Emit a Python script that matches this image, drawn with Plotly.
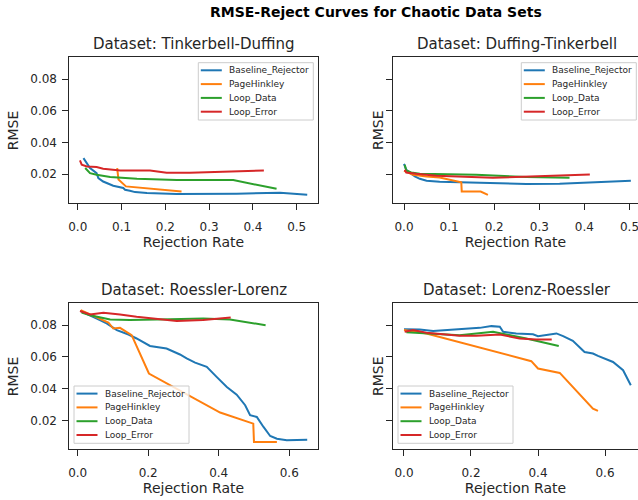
import plotly.graph_objects as go

# ---------------- data ----------------
series_names = ["Baseline_Rejector", "PageHinkley", "Loop_Data", "Loop_Error"]
series_colors = ["#1f77b4", "#ff7f0e", "#2ca02c", "#d62728"]
panel_titles = ["Dataset: Tinkerbell-Duffing", "Dataset: Duffing-Tinkerbell",
                "Dataset: Roessler-Lorenz", "Dataset: Lorenz-Roessler"]

# Tinkerbell-Duffing
td_base_x = [0.013, 0.02, 0.028, 0.043, 0.047, 0.058, 0.081, 0.104, 0.108, 0.119, 0.131, 0.158, 0.226, 0.363, 0.462, 0.524]
td_base_y = [0.0301, 0.027, 0.0238, 0.0206, 0.0175, 0.0153, 0.0126, 0.0112, 0.0101, 0.0095, 0.0086, 0.008, 0.0074, 0.0076, 0.0082, 0.0069]
td_ph_x = [0.090, 0.093, 0.11, 0.135, 0.237]
td_ph_y = [0.0238, 0.0165, 0.0122, 0.0115, 0.0090]
td_ld_x = [0.017, 0.028, 0.043, 0.074, 0.135, 0.226, 0.355, 0.454]
td_ld_y = [0.0238, 0.0206, 0.0196, 0.0181, 0.017, 0.0162, 0.0162, 0.0107]
td_le_x = [0.005, 0.009, 0.021, 0.043, 0.058, 0.097, 0.165, 0.203, 0.256, 0.348, 0.425]
td_le_y = [0.0286, 0.0259, 0.0248, 0.0244, 0.0233, 0.0223, 0.0223, 0.0208, 0.0208, 0.0217, 0.0223]

# Duffing-Tinkerbell
dt_base_x = [0.0, 0.005, 0.016, 0.024, 0.035, 0.05, 0.079, 0.183, 0.271, 0.345, 0.419, 0.503]
dt_base_y = [0.0265, 0.0227, 0.0202, 0.0185, 0.017, 0.0158, 0.0151, 0.0141, 0.0137, 0.0139, 0.0147, 0.0158]
dt_ph_x = [0.0, 0.02, 0.05, 0.079, 0.127, 0.128, 0.17, 0.186]
dt_ph_y = [0.022, 0.0195, 0.0185, 0.0178, 0.0148, 0.009, 0.009, 0.0069]
dt_ld_x = [0.0016, 0.005, 0.016, 0.035, 0.16, 0.271, 0.367]
dt_ld_y = [0.0259, 0.0223, 0.021, 0.0202, 0.0196, 0.0181, 0.0177]
dt_le_x = [0.0016, 0.005, 0.027, 0.072, 0.197, 0.271, 0.412]
dt_le_y = [0.0227, 0.021, 0.0202, 0.0189, 0.0177, 0.0185, 0.0197]

# Roessler-Lorenz
rl_base_x = [0.0085, 0.035, 0.063, 0.082, 0.111, 0.144, 0.167, 0.205, 0.252, 0.29, 0.309, 0.333, 0.366, 0.394,
             0.423, 0.451, 0.475, 0.489, 0.508, 0.527, 0.546, 0.565, 0.593, 0.651]
rl_base_y = [0.0889, 0.0863, 0.0832, 0.0811, 0.0769, 0.0741, 0.0716, 0.0669, 0.0653, 0.0615, 0.059, 0.0564, 0.0537,
             0.0474, 0.041, 0.0362, 0.0295, 0.0232, 0.0221, 0.0158, 0.0101, 0.0084, 0.0074, 0.0078]
rl_ph_x = [0.0085, 0.073, 0.087, 0.101, 0.12, 0.153, 0.202, 0.404, 0.498, 0.5, 0.565]
rl_ph_y = [0.0895, 0.0832, 0.0817, 0.0779, 0.0783, 0.0737, 0.0495, 0.0249, 0.0179, 0.0063, 0.0063]
rl_ld_x = [0.011, 0.035, 0.092, 0.148, 0.262, 0.356, 0.432, 0.533]
rl_ld_y = [0.088, 0.0863, 0.0836, 0.0832, 0.0838, 0.0842, 0.0836, 0.08]
rl_le_x = [0.0065, 0.035, 0.073, 0.12, 0.167, 0.224, 0.281, 0.356, 0.434]
rl_le_y = [0.0889, 0.0868, 0.0878, 0.0868, 0.0853, 0.0838, 0.0827, 0.0832, 0.0849]

# Lorenz-Roessler
lr_base_x = [0.0, 0.047, 0.087, 0.166, 0.226, 0.261, 0.286, 0.296, 0.335, 0.385, 0.4, 0.455, 0.475, 0.504, 0.539,
             0.564, 0.579, 0.624, 0.654, 0.677]
lr_base_y = [0.0775, 0.0773, 0.0764, 0.0775, 0.0783, 0.0794, 0.079, 0.0758, 0.0748, 0.0743, 0.0731, 0.0748, 0.0731,
             0.0701, 0.0631, 0.0621, 0.0606, 0.0568, 0.0516, 0.0421]
lr_ph_x = [0.0, 0.067, 0.38, 0.4, 0.465, 0.564, 0.579]
lr_ph_y = [0.0769, 0.0748, 0.0573, 0.0527, 0.0499, 0.0274, 0.0259]
lr_ld_x = [0.007, 0.067, 0.166, 0.266, 0.365, 0.462]
lr_ld_y = [0.0755, 0.0748, 0.0737, 0.0758, 0.0716, 0.0669]
lr_le_x = [0.002, 0.027, 0.067, 0.166, 0.216, 0.286, 0.345, 0.395, 0.441]
lr_le_y = [0.0758, 0.0769, 0.0752, 0.0733, 0.0733, 0.0741, 0.0716, 0.071, 0.071]

y_ticks = [0.02, 0.04, 0.06, 0.08]
y_tick_labels = ["0.02", "0.04", "0.06", "0.08"]

panels = [
    [(td_base_x, td_base_y), (td_ph_x, td_ph_y), (td_ld_x, td_ld_y), (td_le_x, td_le_y)],
    [(dt_base_x, dt_base_y), (dt_ph_x, dt_ph_y), (dt_ld_x, dt_ld_y), (dt_le_x, dt_le_y)],
    [(rl_base_x, rl_base_y), (rl_ph_x, rl_ph_y), (rl_ld_x, rl_ld_y), (rl_le_x, rl_le_y)],
    [(lr_base_x, lr_base_y), (lr_ph_x, lr_ph_y), (lr_ld_x, lr_ld_y), (lr_le_x, lr_le_y)],
]

# ---------------- figure ----------------
W, H = 638, 500
FONT = "DejaVu Sans"
DARK = "#262626"

fig = go.Figure()
axis_ids = ["", "2", "3", "4"]
for p, data in enumerate(panels):
    for s, (xs, ys) in enumerate(data):
        fig.add_trace(go.Scatter(
            x=xs, y=ys, mode="lines", name=series_names[s],
            line=dict(color=series_colors[s], width=2),
            xaxis="x" + axis_ids[p], yaxis="y" + axis_ids[p],
            showlegend=False,
        ))

x_domains = [[69 / W, 318 / W], [393 / W, 1.0], [69 / W, 318 / W], [393 / W, 1.0]]
y_domains = [[1 - 202.7 / H, 1 - 57.3 / H], [1 - 202.7 / H, 1 - 57.3 / H],
             [1 - 449 / H, 1 - 303.3 / H], [1 - 449 / H, 1 - 303.3 / H]]
x_ranges = [[-0.02, 0.5486], [-0.0244, 0.5188], [-0.0247, 0.6816], [-0.0328, 0.6985]]
x_dticks = [0.1, 0.1, 0.2, 0.2]
y_range = [0.0019, 0.0938]

common = dict(showline=True, linecolor=DARK, linewidth=1, ticks="outside", ticklen=6,
              tickwidth=1, tickcolor=DARK, showgrid=False, zeroline=False, automargin=False,
              ticklabeloverflow="allow",
              tickfont=dict(family=FONT, size=12, color=DARK))

layout = {}
for p in range(4):
    a = axis_ids[p]
    layout["xaxis" + a] = dict(
        common, domain=x_domains[p], range=x_ranges[p], dtick=x_dticks[p], tick0=0,
        tickformat=".1f", anchor="y" + a, mirror=True, ticklabelstandoff=7,
        title=dict(text="Rejection Rate", font=dict(family=FONT, size=14, color=DARK), standoff=0),
    )
    left = p % 2 == 0
    layout["yaxis" + a] = dict(
        common, domain=y_domains[p], range=y_range, tickvals=y_ticks, ticktext=y_tick_labels,
        showticklabels=False, anchor="x" + a, mirror=left,
    )

# label-only y axes for the left column, placed where the tick labels sit
label_axes = [("yaxis5", "y5", "y", "x", y_domains[0]), ("yaxis6", "y6", "y3", "x3", y_domains[2])]
for name, ref, base, xref, dom in label_axes:
    layout[name] = dict(
        overlaying=base, anchor="free", position=57 / W, side="left",
        range=y_range, tickvals=y_ticks, ticktext=y_tick_labels,
        showline=False, ticks="", showgrid=False, zeroline=False, automargin=False,
        tickfont=dict(family=FONT, size=12, color=DARK),
    )
    # empty carrier trace so the label axis is drawn
    fig.add_trace(go.Scatter(x=[None], y=[None], xaxis=xref, yaxis=ref, mode="lines",
                             showlegend=False, hoverinfo="skip"))


def px(x):
    return x / W


def py(y):
    return 1 - y / H


shapes = []
annotations = []

# y-axis titles
ytitle_pos = [(13.3, 130.0), (378.0, 130.0), (13.3, 376.0), (378.0, 376.0)]
for (tx, ty) in ytitle_pos:
    annotations.append(dict(text="RMSE", x=px(tx), y=py(ty), xref="paper", yref="paper",
                            xanchor="center", yanchor="middle", textangle=-90, showarrow=False,
                            font=dict(family=FONT, size=14, color=DARK)))

# ---------------- per-panel legends ----------------
legend_boxes = [(198.3, 62.7), (521.3, 62.7), (74.0, 386.0), (398.0, 386.0)]  # left, top in px
LEG_W, LEG_H = 115.0, 57.3
row_offsets = [7.6, 21.4, 35.2, 49.0]

for (bl, bt) in legend_boxes:
    shapes.append(dict(type="rect", xref="paper", yref="paper", layer="above",
                       x0=px(bl), x1=px(bl + LEG_W), y0=py(bt), y1=py(bt + LEG_H),
                       fillcolor="rgba(255,255,255,0.8)", line=dict(color="#cccccc", width=1)))
    for s, name in enumerate(series_names):
        ry = bt + row_offsets[s]
        shapes.append(dict(type="line", xref="paper", yref="paper", layer="above",
                           x0=px(bl + 2.5), x1=px(bl + 23.5), y0=py(ry), y1=py(ry),
                           line=dict(color=series_colors[s], width=2)))
        annotations.append(dict(text=name, x=px(bl + 29.0), y=py(ry), xref="paper", yref="paper",
                                xanchor="left", yanchor="middle", showarrow=False,
                                font=dict(family=FONT, size=9, color=DARK)))

title_x = [193.5, 517.0, 193.5, 517.0]
title_y = [44.0, 44.0, 290.0, 290.0]
for p in range(4):
    annotations.append(dict(text=panel_titles[p], x=px(title_x[p]), y=py(title_y[p]),
                            xref="paper", yref="paper",
                            xanchor="center", yanchor="middle", showarrow=False,
                            font=dict(family=FONT, size=15, color=DARK)))
annotations.append(dict(text="<b>RMSE-Reject Curves for Chaotic Data Sets</b>", x=px(376), y=py(12),
                        xref="paper", yref="paper", xanchor="center", yanchor="middle",
                        showarrow=False, font=dict(family=FONT, size=14, color="#000000")))

fig.update_layout(
    width=W, height=H, margin=dict(l=0, r=0, t=0, b=0),
    paper_bgcolor="white", plot_bgcolor="white", showlegend=False,
    annotations=annotations, shapes=shapes, **layout,
)

fig.write_html("out.html")
